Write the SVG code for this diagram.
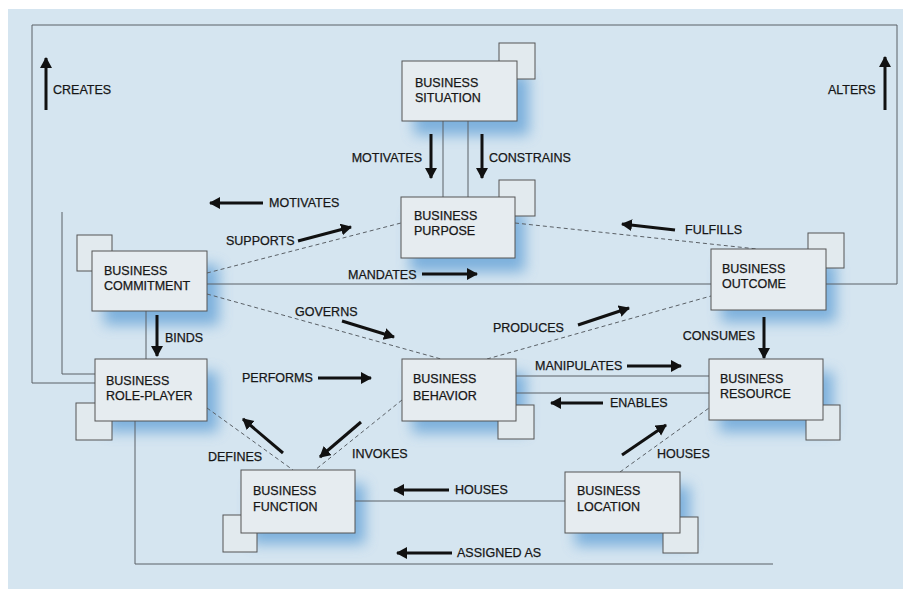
<svg xmlns="http://www.w3.org/2000/svg" width="905" height="590" viewBox="0 0 905 590">
<defs>
<style>
.bg{fill:#d5e5f0}
.box{fill:#e6ecf0;stroke:#555;stroke-width:1}
.sq{fill:#e2eaee;stroke:#555;stroke-width:1}
.glow{fill:#5f9fd6;opacity:0.75;filter:url(#blur)}
.ln{fill:none;stroke:#5a6066;stroke-width:1}
.dl{fill:none;stroke:#5a6066;stroke-width:1;stroke-dasharray:4 3}
.ar{fill:none;stroke:#111;stroke-width:3;marker-end:url(#ah)}
text{font-family:"Liberation Sans",Arial,sans-serif;font-size:12.5px;fill:#161616;stroke:#161616;stroke-width:0.25}
</style>
<filter id="blur" x="-30%" y="-30%" width="160%" height="160%"><feGaussianBlur stdDeviation="7"/></filter>
<marker id="ah" markerUnits="userSpaceOnUse" markerWidth="14" markerHeight="14" refX="10" refY="6" orient="auto">
<path d="M0,0 L11,6 L0,12 Z" fill="#111"/>
</marker>
</defs>
<rect x="0" y="0" width="905" height="590" fill="#ffffff"/>
<rect class="bg" x="8" y="9" width="895" height="580"/>

<g id="shadows">
<rect class="glow" x="414" y="75" width="115" height="60"/>
<rect class="glow" x="410" y="212" width="115" height="60"/>
<rect class="glow" x="104" y="265" width="115" height="60"/>
<rect class="glow" x="106" y="372" width="112" height="60"/>
<rect class="glow" x="412" y="373" width="114" height="60"/>
<rect class="glow" x="721" y="262" width="115" height="60"/>
<rect class="glow" x="719" y="372" width="114" height="60"/>
<rect class="glow" x="251" y="484" width="114" height="60"/>
<rect class="glow" x="575" y="486" width="115" height="60"/>
</g>

<g id="connectors">
<polyline class="ln" points="95,383 32,383 32,25 897,25 897,284 826,284"/>
<polyline class="ln" points="62,212 62,374 95,374"/>
<line class="ln" x1="207" y1="284" x2="711" y2="284"/>
<line class="ln" x1="443" y1="121" x2="443" y2="197"/>
<line class="ln" x1="468" y1="121" x2="468" y2="197"/>
<line class="ln" x1="146" y1="311" x2="146" y2="359"/>
<polyline class="ln" points="135,421 135,564 773,564"/>
<line class="ln" x1="516" y1="376" x2="709" y2="376"/>
<line class="ln" x1="516" y1="393" x2="709" y2="393"/>
<line class="ln" x1="355" y1="501" x2="565" y2="501"/>
<line class="dl" x1="207" y1="273" x2="401" y2="223"/>
<line class="dl" x1="515" y1="223" x2="757" y2="249"/>
<line class="dl" x1="207" y1="294" x2="441" y2="359"/>
<line class="dl" x1="487" y1="359" x2="711" y2="296"/>
<line class="dl" x1="620" y1="472" x2="709" y2="408"/>
<line class="dl" x1="207" y1="408" x2="293" y2="470"/>
<line class="dl" x1="402" y1="400" x2="315" y2="470"/>

<line class="ar" x1="46" y1="110" x2="46" y2="58"/>
<line class="ar" x1="885" y1="110" x2="885" y2="57"/>
<line class="ar" x1="431" y1="134" x2="431" y2="178"/>
<line class="ar" x1="482" y1="134" x2="482" y2="178"/>
<line class="ar" x1="263" y1="203" x2="210" y2="203"/>
<line class="ar" x1="298" y1="241" x2="351" y2="227"/>
<line class="ar" x1="675" y1="230" x2="622" y2="224"/>
<line class="ar" x1="422" y1="274" x2="477" y2="274"/>
<line class="ar" x1="342" y1="321" x2="394" y2="337"/>
<line class="ar" x1="578" y1="325" x2="629" y2="308"/>
<line class="ar" x1="157" y1="315" x2="157" y2="356"/>
<line class="ar" x1="764" y1="317" x2="764" y2="358"/>
<line class="ar" x1="318" y1="378" x2="371" y2="378"/>
<line class="ar" x1="627" y1="366" x2="681" y2="366"/>
<line class="ar" x1="603" y1="403" x2="551" y2="403"/>
<line class="ar" x1="283" y1="453" x2="243" y2="419"/>
<line class="ar" x1="361" y1="422" x2="320" y2="457"/>
<line class="ar" x1="622" y1="455" x2="666" y2="425"/>
<line class="ar" x1="449" y1="490" x2="394" y2="490"/>
<line class="ar" x1="452" y1="553" x2="397" y2="553"/>

<text x="53" y="94">CREATES</text>
<text x="828" y="94">ALTERS</text>
<text x="422" y="162" text-anchor="end">MOTIVATES</text>
<text x="489" y="162">CONSTRAINS</text>
<text x="269" y="207">MOTIVATES</text>
<text x="226" y="245">SUPPORTS</text>
<text x="685" y="234">FULFILLS</text>
<text x="348" y="279">MANDATES</text>
<text x="295" y="316">GOVERNS</text>
<text x="493" y="332">PRODUCES</text>
<text x="165" y="342">BINDS</text>
<text x="755" y="340" text-anchor="end">CONSUMES</text>
<text x="242" y="382">PERFORMS</text>
<text x="535" y="370">MANIPULATES</text>
<text x="610" y="407">ENABLES</text>
<text x="208" y="461">DEFINES</text>
<text x="352" y="458">INVOKES</text>
<text x="657" y="458">HOUSES</text>
<text x="455" y="494">HOUSES</text>
<text x="457" y="557">ASSIGNED AS</text>
</g>

<g id="situation">
<rect class="sq" x="499" y="43" width="36" height="36"/>
<rect class="box" x="402" y="61" width="115" height="60"/>
<text x="415" y="87">BUSINESS</text>
<text x="415" y="102">SITUATION</text>
</g>

<g id="purpose">
<rect class="sq" x="499" y="180" width="36" height="36"/>
<rect class="box" x="401" y="197" width="114" height="61"/>
<text x="414" y="220">BUSINESS</text>
<text x="414" y="235">PURPOSE</text>
</g>

<g id="commitment">
<rect class="sq" x="77" y="235" width="35" height="36"/>
<rect class="box" x="92" y="251" width="115" height="60"/>
<text x="104" y="275">BUSINESS</text>
<text x="104" y="290">COMMITMENT</text>
</g>

<g id="roleplayer">
<rect class="sq" x="76" y="403" width="36" height="37"/>
<rect class="box" x="95" y="359" width="112" height="62"/>
<text x="106" y="385">BUSINESS</text>
<text x="106" y="400">ROLE-PLAYER</text>
</g>

<g id="behavior">
<rect class="sq" x="498" y="405" width="36" height="34"/>
<rect class="box" x="402" y="359" width="114" height="62"/>
<text x="413" y="383">BUSINESS</text>
<text x="413" y="400">BEHAVIOR</text>
</g>

<g id="outcome">
<rect class="sq" x="808" y="233" width="36" height="35"/>
<rect class="box" x="711" y="249" width="115" height="61"/>
<text x="722" y="273">BUSINESS</text>
<text x="722" y="288">OUTCOME</text>
</g>

<g id="resource">
<rect class="sq" x="806" y="405" width="34" height="35"/>
<rect class="box" x="709" y="359" width="114" height="61"/>
<text x="720" y="383">BUSINESS</text>
<text x="720" y="398">RESOURCE</text>
</g>

<g id="function">
<rect class="sq" x="223" y="515" width="34" height="37"/>
<rect class="box" x="241" y="470" width="114" height="63"/>
<text x="253" y="495">BUSINESS</text>
<text x="253" y="511">FUNCTION</text>
</g>

<g id="location">
<rect class="sq" x="663" y="517" width="35" height="36"/>
<rect class="box" x="565" y="472" width="115" height="61"/>
<text x="577" y="495">BUSINESS</text>
<text x="577" y="511">LOCATION</text>
</g>
</svg>
